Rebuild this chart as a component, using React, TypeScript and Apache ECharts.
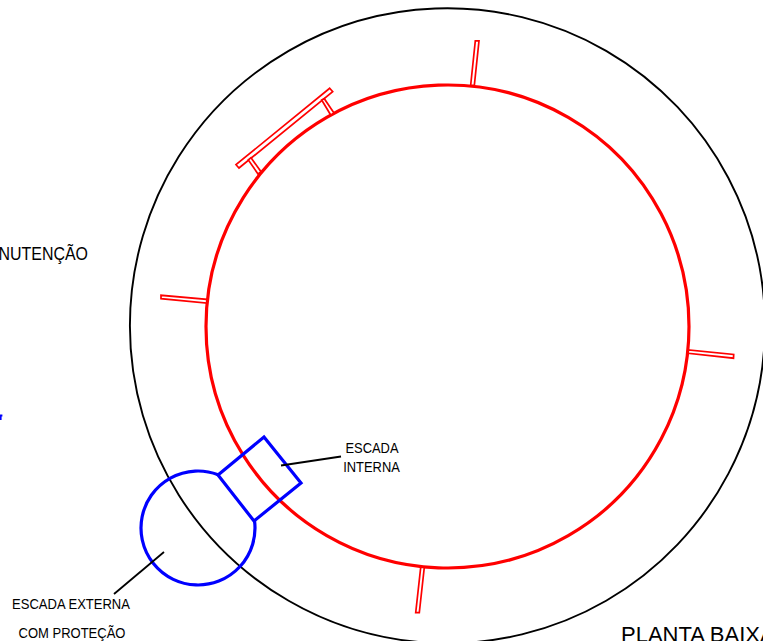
import React, { useEffect, useRef } from "react";
import * as echarts from "echarts";

const WIDTH = 763;
const HEIGHT = 641;

// [cx, cy, r] in drawing units
const outerWall = [[447.4, 325.8, 317.5]];
const innerWall = [[447.5, 326.5, 241.5]];
// [cx, cy, r, startDeg, endDeg]: the side facing the internal stair stays open
const externalStair = [[198, 528, 57, -7.1, 290.7]];

// closed outlines in drawing units
const supports = [
  [[475.3, 40.8], [479, 40.8], [474.3, 85.7], [470.7, 85]],
  [[161, 295.3], [161, 298.7], [206.7, 303], [206.7, 299.3]],
  [[688.3, 350], [688.3, 353.3], [733.5, 358.2], [733.7, 354.4]],
  [[420.7, 567.3], [424.3, 567.3], [419.3, 612.7], [415.7, 612.7]],
  [[329.7, 88.3], [332.7, 91.7], [239, 168], [236, 164.7]],
  [[321.7, 100], [324.3, 98.7], [334, 113], [330.7, 115]],
  [[248.3, 160], [251, 157.7], [261, 171.7], [258, 174]],
];
const internalStair = [[218, 475], [264, 437], [301, 483], [254, 521]];
const leaderLines = [
  [[281, 465.5], [341, 456.5]],
  [[114, 594], [164, 552]],
];
const cutMark = [[0, 414.5], [2.4, 414.5], [2.4, 416.5], [1.6, 416.5], [1.6, 420], [0, 420]];

const labels = ["NUTENÇÃO", "ESCADA", "INTERNA", "ESCADA EXTERNA", "COM PROTEÇÃO", "PLANTA BAIXA"];
const labelAnchors = [[88, 263], [372, 456], [371.5, 475], [71, 611.5], [72, 640.5], [621, 645]];
const labelSizes = [19, 14.5, 14.5, 14, 14, 22];
const labelStretch = [0.84, 0.89, 0.89, 0.93, 0.93, 1];
const labelAlign = ["right", "center", "center", "center", "center", "left"];

function App() {
  const ref = useRef<HTMLDivElement>(null);
  useEffect(() => {
    const chart = echarts.init(ref.current!, undefined, { renderer: "svg" });

    const circleSeries = (data: number[][], color: string, lineWidth: number) => ({
      type: "custom",
      coordinateSystem: "cartesian2d",
      clip: false,
      silent: true,
      data,
      renderItem: (_p: any, api: any) => {
        const c = api.coord([api.value(0), api.value(1)]);
        const edge = api.coord([api.value(0) + api.value(2), api.value(1)]);
        return {
          type: "circle",
          shape: { cx: c[0], cy: c[1], r: Math.abs(edge[0] - c[0]) },
          style: { fill: "none", stroke: color, lineWidth },
        };
      },
    });

    const arcSeries = (data: number[][], color: string, lineWidth: number) => ({
      type: "custom",
      coordinateSystem: "cartesian2d",
      clip: false,
      silent: true,
      data,
      renderItem: (_p: any, api: any) => {
        const c = api.coord([api.value(0), api.value(1)]);
        const edge = api.coord([api.value(0) + api.value(2), api.value(1)]);
        return {
          type: "arc",
          shape: {
            cx: c[0],
            cy: c[1],
            r: Math.abs(edge[0] - c[0]),
            startAngle: (api.value(3) * Math.PI) / 180,
            endAngle: (api.value(4) * Math.PI) / 180,
            clockwise: true,
          },
          style: { fill: "none", stroke: color, lineWidth },
        };
      },
    });

    const outlineSeries = (
      outlines: number[][][],
      color: string,
      lineWidth: number,
      fill: string,
      closed: boolean
    ) => ({
      type: "custom",
      coordinateSystem: "cartesian2d",
      clip: false,
      silent: true,
      data: outlines.map((_o, i) => [i]),
      renderItem: (p: any, api: any) => {
        const pts = outlines[p.dataIndex].map((q) => api.coord(q));
        return {
          type: closed ? "polygon" : "polyline",
          shape: { points: pts },
          style: { fill, stroke: color, lineWidth, lineJoin: "miter" },
        };
      },
    });

    const textSeries = {
      type: "custom",
      coordinateSystem: "cartesian2d",
      clip: false,
      silent: true,
      data: labels.map((_l, i) => [i]),
      renderItem: (p: any, api: any) => {
        const i = p.dataIndex;
        const pos = api.coord(labelAnchors[i]);
        return {
          type: "text",
          x: pos[0],
          y: pos[1],
          scaleX: labelStretch[i],
          style: {
            text: labels[i],
            x: 0,
            y: 0,
            fill: "#000000",
            font: `${labelSizes[i]}px "Liberation Sans", Arial, sans-serif`,
            align: labelAlign[i],
            verticalAlign: "bottom",
          },
        };
      },
    };

    chart.setOption({
      animation: false,
      backgroundColor: "#ffffff",
      grid: { left: 0, right: 0, top: 0, bottom: 0 },
      xAxis: { type: "value", min: 0, max: WIDTH, show: false },
      yAxis: { type: "value", min: 0, max: HEIGHT, inverse: true, show: false },
      series: [
        circleSeries(outerWall, "#000000", 1.9),
        circleSeries(innerWall, "#ff0000", 3.2),
        outlineSeries(supports, "#ff0000", 1.7, "#ffffff", true),
        arcSeries(externalStair, "#0000ff", 3.2),
        outlineSeries([internalStair], "#0000ff", 3.2, "none", true),
        outlineSeries(leaderLines, "#000000", 1.8, "none", false),
        outlineSeries([cutMark], "none", 0, "#0000ff", true),
        textSeries,
      ],
    });
    return () => chart.dispose();
  }, []);

  return (
    <div
      ref={ref}
      style={{ position: "absolute", left: 0, top: 0, width: WIDTH, height: HEIGHT, overflow: "hidden" }}
    />
  );
}

export default App;
